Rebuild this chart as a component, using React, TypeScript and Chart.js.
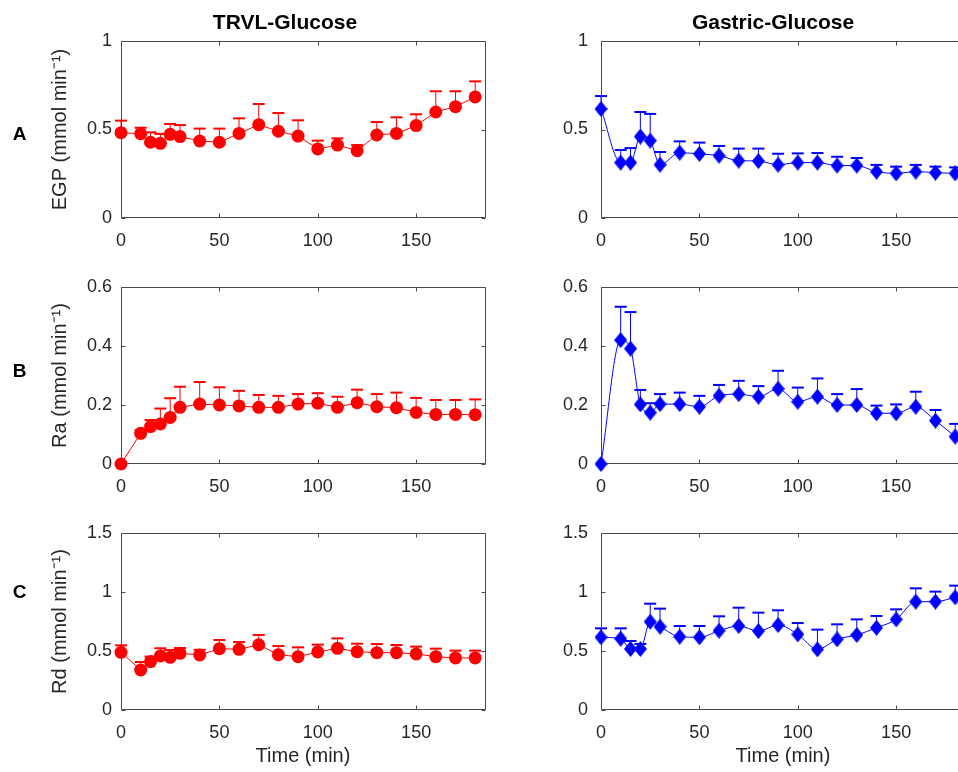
import React, { useEffect, useRef } from "react";
import { Chart, registerables } from "chart.js";
Chart.register(...registerables);

// ---------- data ----------
const times = [0, 10, 15, 20, 25, 30, 40, 50, 60, 70, 80, 90, 100, 110, 120, 130, 140, 150, 160, 170, 180];
const xTicks = [0, 50, 100, 150];

const egpTicks = [0, 0.5, 1];
const raTicks = [0, 0.2, 0.4, 0.6];
const rdTicks = [0, 0.5, 1, 1.5];

const egpTrvl = [0.482, 0.476, 0.428, 0.422, 0.473, 0.46, 0.435, 0.428, 0.478, 0.527, 0.49, 0.463, 0.39, 0.412, 0.38, 0.469, 0.478, 0.522, 0.599, 0.629, 0.684];
const egpTrvlTop = [0.55, 0.51, 0.484, 0.475, 0.531, 0.525, 0.505, 0.505, 0.563, 0.644, 0.593, 0.552, 0.437, 0.45, 0.412, 0.542, 0.569, 0.586, 0.716, 0.716, 0.772];

const egpGastric = [0.616, 0.313, 0.313, 0.46, 0.437, 0.301, 0.369, 0.362, 0.352, 0.324, 0.322, 0.301, 0.313, 0.313, 0.296, 0.296, 0.262, 0.252, 0.262, 0.256, 0.252];
const egpGastricTop = [0.689, 0.384, 0.395, 0.599, 0.588, 0.373, 0.433, 0.426, 0.407, 0.392, 0.392, 0.363, 0.365, 0.367, 0.346, 0.339, 0.3, 0.29, 0.3, 0.29, 0.286];

const raTrvl = [0, 0.104, 0.127, 0.136, 0.158, 0.192, 0.203, 0.2, 0.197, 0.192, 0.192, 0.203, 0.206, 0.192, 0.208, 0.194, 0.191, 0.175, 0.168, 0.168, 0.167];
const raTrvlTop = [0, 0.115, 0.149, 0.188, 0.223, 0.262, 0.278, 0.26, 0.248, 0.234, 0.231, 0.237, 0.24, 0.228, 0.252, 0.237, 0.242, 0.224, 0.217, 0.217, 0.219];

const raGastric = [0, 0.42, 0.391, 0.202, 0.174, 0.203, 0.203, 0.194, 0.231, 0.237, 0.228, 0.255, 0.211, 0.228, 0.2, 0.2, 0.172, 0.172, 0.194, 0.147, 0.093];
const raGastricTop = [0, 0.533, 0.515, 0.251, 0.206, 0.237, 0.242, 0.231, 0.268, 0.282, 0.264, 0.316, 0.259, 0.29, 0.237, 0.254, 0.198, 0.202, 0.245, 0.183, 0.136];

const rdTrvl = [0.489, 0.339, 0.41, 0.458, 0.446, 0.48, 0.466, 0.52, 0.514, 0.553, 0.469, 0.452, 0.492, 0.523, 0.494, 0.486, 0.486, 0.475, 0.452, 0.441, 0.441];
const rdTrvlTop = [0.548, 0.407, 0.452, 0.523, 0.508, 0.525, 0.51, 0.593, 0.576, 0.636, 0.542, 0.531, 0.554, 0.607, 0.562, 0.559, 0.551, 0.537, 0.52, 0.503, 0.503];

const rdGastric = [0.616, 0.604, 0.517, 0.517, 0.748, 0.706, 0.621, 0.616, 0.672, 0.712, 0.669, 0.72, 0.641, 0.514, 0.599, 0.636, 0.697, 0.768, 0.918, 0.918, 0.955];
const rdGastricTop = [0.692, 0.692, 0.585, 0.56, 0.901, 0.859, 0.712, 0.712, 0.794, 0.867, 0.825, 0.845, 0.737, 0.681, 0.726, 0.768, 0.797, 0.853, 1.031, 1.003, 1.054];

// ---------- styling / layout ----------
const FONT = "'Liberation Sans', Arial, Helvetica, sans-serif";
const AXIS = "#262626";
const RED = "#ff0000";
const BLUE = "#0000ff";
const PAD_TOP = 24;

type Panel = {
  values: number[];
  tops: number[];
  color: string;
  diamond: boolean;
  yMax: number;
  yTicks: number[];
  yTitle?: string;
  xTitle?: string;
  left: number;
  top: number;
  width: number;
  height: number;
  padLeft: number;
  yWidth: number;
  xHeight: number;
  yPad: number;
};

const LEFT_COL = { left: 0, width: 500, padLeft: 48, yWidth: 73, yPad: 9 };
const RIGHT_COL = { left: 541, width: 439, padLeft: 0, yWidth: 60, yPad: 13 };
const ROW_A = { top: 17, height: 236, xHeight: 35 };
const ROW_B = { top: 263, height: 236, xHeight: 35 };
const ROW_C = { top: 509, height: 263, xHeight: 62 };

const panels: Panel[] = [
  { values: egpTrvl, tops: egpTrvlTop, color: RED, diamond: false, yMax: 1, yTicks: egpTicks, yTitle: "EGP (mmol min\u207B\u00B9)", ...LEFT_COL, ...ROW_A },
  { values: egpGastric, tops: egpGastricTop, color: BLUE, diamond: true, yMax: 1, yTicks: egpTicks, ...RIGHT_COL, ...ROW_A },
  { values: raTrvl, tops: raTrvlTop, color: RED, diamond: false, yMax: 0.6, yTicks: raTicks, yTitle: "Ra (mmol min\u207B\u00B9)", ...LEFT_COL, ...ROW_B },
  { values: raGastric, tops: raGastricTop, color: BLUE, diamond: true, yMax: 0.6, yTicks: raTicks, ...RIGHT_COL, ...ROW_B },
  { values: rdTrvl, tops: rdTrvlTop, color: RED, diamond: false, yMax: 1.5, yTicks: rdTicks, yTitle: "Rd (mmol min\u207B\u00B9)", xTitle: "Time (min)", ...LEFT_COL, ...ROW_C },
  { values: rdGastric, tops: rdGastricTop, color: BLUE, diamond: true, yMax: 1.5, yTicks: rdTicks, xTitle: "Time (min)", ...RIGHT_COL, ...ROW_C },
];

function makeDiamond(color: string): HTMLCanvasElement {
  const c = document.createElement("canvas");
  c.width = 13;
  c.height = 16;
  const g = c.getContext("2d")!;
  g.fillStyle = color;
  g.beginPath();
  g.moveTo(6.5, 0);
  g.lineTo(13, 8);
  g.lineTo(6.5, 16);
  g.lineTo(0, 8);
  g.closePath();
  g.fill();
  return c;
}

function buildChart(canvas: HTMLCanvasElement, p: Panel): Chart {
  const framePlugin = {
    id: "frameAndErrors",
    beforeDatasetsDraw(chart: any) {
      const { ctx, chartArea: a, scales } = chart;
      const xs = scales.x;
      const ys = scales.y;
      ctx.save();
      // error bars (upper only)
      ctx.strokeStyle = p.color;
      for (let i = 0; i < times.length; i++) {
        const e = p.tops[i] - p.values[i];
        if (e <= 0) continue;
        const x = xs.getPixelForValue(times[i]);
        const y0 = ys.getPixelForValue(p.values[i]);
        const y1 = ys.getPixelForValue(p.tops[i]);
        ctx.lineWidth = 1;
        ctx.beginPath();
        ctx.moveTo(x, y0);
        ctx.lineTo(x, y1);
        ctx.stroke();
        ctx.lineWidth = 2;
        ctx.beginPath();
        ctx.moveTo(x - 6, y1);
        ctx.lineTo(x + 6, y1);
        ctx.stroke();
      }
      // box and inward ticks
      ctx.strokeStyle = "#4a4a4a";
      ctx.lineWidth = 1;
      const L = Math.round(a.left) + 0.5;
      const R = Math.round(a.right) + 0.5;
      const T = Math.round(a.top) + 0.5;
      const B = Math.round(a.bottom) - 0.5;
      ctx.beginPath();
      ctx.moveTo(L, T);
      ctx.lineTo(R, T);
      ctx.lineTo(R, B);
      ctx.lineTo(L, B);
      ctx.closePath();
      const tl = 4;
      for (const v of xTicks) {
        const x = Math.round(xs.getPixelForValue(v)) + 0.5;
        ctx.moveTo(x, B);
        ctx.lineTo(x, B - tl);
        ctx.moveTo(x, T);
        ctx.lineTo(x, T + tl);
      }
      for (const v of p.yTicks) {
        const y = Math.round(ys.getPixelForValue(v)) + 0.5;
        ctx.moveTo(L, y);
        ctx.lineTo(L + tl, y);
        ctx.moveTo(R, y);
        ctx.lineTo(R - tl, y);
      }
      ctx.stroke();
      ctx.restore();
    },
  };

  const tickFont = { family: FONT, size: 18 };
  const titleFont = { family: FONT, size: 20 };

  return new Chart(canvas, {
    type: "line",
    data: {
      datasets: [
        {
          data: times.map((t, i) => ({ x: t, y: p.values[i] })),
          borderColor: p.color,
          backgroundColor: p.color,
          borderWidth: 1,
          pointStyle: p.diamond ? (makeDiamond(p.color) as any) : "circle",
          pointRadius: p.diamond ? 7 : 6.5,
          pointBorderWidth: 0,
          pointBackgroundColor: p.color,
          pointBorderColor: p.color,
          tension: 0,
          cubicInterpolationMode: p.diamond ? "monotone" : "default",
          clip: false as any,
          fill: false,
        },
      ],
    },
    options: {
      responsive: false,
      animation: false,
      events: [],
      layout: { padding: { left: p.padLeft, top: PAD_TOP, right: 15, bottom: 0 } },
      plugins: { legend: { display: false }, tooltip: { enabled: false }, title: { display: false } },
      scales: {
        x: {
          type: "linear",
          position: "bottom",
          min: 0,
          max: 185,
          grid: { display: false, drawTicks: false },
          border: { display: false },
          ticks: {
            font: tickFont,
            color: AXIS,
            padding: 12,
            maxRotation: 0,
            autoSkip: false,
            callback: (v: any) => String(v),
          },
          afterBuildTicks: (s: any) => {
            s.ticks = xTicks.map((v) => ({ value: v }));
          },
          afterFit: (s: any) => {
            s.height = p.xHeight;
          },
          title: {
            display: !!p.xTitle,
            text: p.xTitle || "",
            font: titleFont,
            color: AXIS,
            padding: { top: 0, bottom: 4 },
          },
        },
        y: {
          type: "linear",
          position: "left",
          min: 0,
          max: p.yMax,
          grid: { display: false, drawTicks: false },
          border: { display: false },
          ticks: {
            font: tickFont,
            color: AXIS,
            padding: p.yPad,
            autoSkip: false,
            callback: (v: any) => String(v),
          },
          afterBuildTicks: (s: any) => {
            s.ticks = p.yTicks.map((v) => ({ value: v }));
          },
          afterFit: (s: any) => {
            s.width = p.yWidth;
          },
          title: {
            display: !!p.yTitle,
            text: p.yTitle || "",
            font: titleFont,
            color: AXIS,
            padding: { top: 0, bottom: 0 },
          },
        },
      },
    } as any,
    plugins: [framePlugin as any],
  });
}

const colTitles = [
  { text: "TRVL-Glucose", cx: 285 },
  { text: "Gastric-Glucose", cx: 773 },
];
const rowLetters = [
  { text: "A", cy: 134 },
  { text: "B", cy: 371 },
  { text: "C", cy: 592 },
];

export default function App() {
  const refs = useRef<(HTMLCanvasElement | null)[]>([]);

  useEffect(() => {
    const charts = panels.map((p, i) => buildChart(refs.current[i]!, p));
    return () => charts.forEach((c) => c.destroy());
  }, []);

  return (
    <div
      style={{
        position: "absolute",
        left: 0,
        top: 0,
        width: 958,
        height: 772,
        overflow: "hidden",
        background: "#ffffff",
        fontFamily: FONT,
      }}
    >
      {panels.map((p, i) => (
        <canvas
          key={i}
          ref={(el) => {
            refs.current[i] = el;
          }}
          width={p.width}
          height={p.height}
          style={{ position: "absolute", left: p.left, top: p.top, width: p.width, height: p.height }}
        />
      ))}
      {colTitles.map((t) => (
        <div
          key={t.text}
          style={{
            position: "absolute",
            left: t.cx,
            top: 22,
            transform: "translate(-50%, -50%)",
            fontWeight: "bold",
            fontSize: 21,
            color: "#000",
            whiteSpace: "nowrap",
            lineHeight: "24px",
          }}
        >
          {t.text}
        </div>
      ))}
      {rowLetters.map((t) => (
        <div
          key={t.text}
          style={{
            position: "absolute",
            left: 19.5,
            top: t.cy,
            transform: "translate(-50%, -50%)",
            fontWeight: "bold",
            fontSize: 19,
            color: "#000",
            lineHeight: "22px",
          }}
        >
          {t.text}
        </div>
      ))}
    </div>
  );
}
